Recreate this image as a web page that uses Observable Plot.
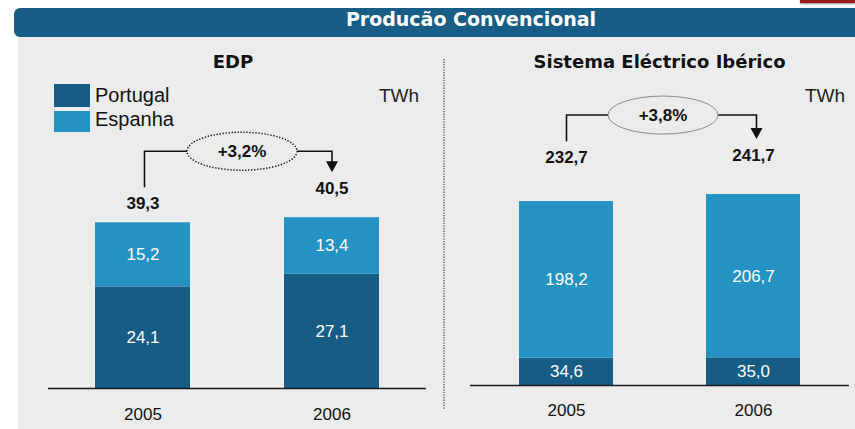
<!DOCTYPE html>
<html><head><meta charset="utf-8">
<script src="https://cdn.jsdelivr.net/npm/d3@7"></script>
<script src="https://cdn.jsdelivr.net/npm/@observablehq/plot@0.6"></script>
<style>
body{margin:0;background:#fff;width:855px;height:429px;overflow:hidden;position:relative;font-family:"Liberation Sans",Arial,sans-serif;}
#panel{position:absolute;left:18px;top:37px;width:837px;height:392px;background:#ececec;}
#header{position:absolute;left:14px;top:8px;width:841px;height:29px;background:#175d85;border-radius:6px 0 0 6px;}
#htitle{position:absolute;left:471px;top:8px;height:29px;line-height:29px;transform:translateX(-50%);color:#fff;font:bold 19px "DejaVu Sans",sans-serif;white-space:nowrap;}
#redtab{position:absolute;left:800px;top:0;width:55px;height:3px;background:#9b1b1b;box-shadow:0 1px 2px rgba(0,0,0,0.45);}
.plotwrap{position:absolute;left:0;top:0;}
</style>
</head><body>
<div id="panel"></div>
<div id="redtab"></div>
<div id="header"></div>
<div id="htitle">Producão Convencional</div>
<div id="left" class="plotwrap"></div>
<div id="right" class="plotwrap"></div>
<script>
// ---- data ----
const years = ["2005", "2006"];
const seriesNames = ["Portugal", "Espanha"];
const edpPortugal = [24.1, 27.1];
const edpEspanha = [15.2, 13.4];
const edpTotals = [39.3, 40.5];
const edpGrowth = "+3,2%";
const ibPortugal = [34.6, 35.0];
const ibEspanha = [198.2, 206.7];
const ibTotals = [232.7, 241.7];
const ibGrowth = "+3,8%";
const panelTitles = ["EDP", "Sistema Eléctrico Ibérico"];
const unitLabel = "TWh";

const colors = ["#175c84", "#2592c4"];
const fmt = v => v.toFixed(1).replace(".", ",");
const FONT = '"Liberation Sans", Arial, sans-serif';

function rowsOf(pt, es) {
  const rows = [];
  years.forEach((y, i) => rows.push({year: y, series: "Portugal", value: pt[i]}));
  years.forEach((y, i) => rows.push({year: y, series: "Espanha", value: es[i]}));
  return rows;
}
function totalsOf(t) { return years.map((y, i) => ({year: y, total: t[i]})); }

function makePanel(cfg) {
  const rows = rowsOf(cfg.pt, cfg.es);
  const tots = totalsOf(cfg.totals);
  const plot = Plot.plot({
    width: 855, height: 429,
    marginLeft: cfg.mL, marginRight: cfg.mR, marginTop: cfg.mT, marginBottom: cfg.mB,
    x: {domain: years, paddingInner: cfg.pi, paddingOuter: cfg.po},
    y: {domain: cfg.yDomain, axis: null},
    color: {domain: seriesNames, range: colors},
    style: {background: "transparent", fontFamily: FONT, overflow: "visible"},
    marks: [
      Plot.barY(rows, {x: "year", y: "value", fill: "series"}),
      Plot.ruleY([0], {stroke: "#1a1a1a", strokeWidth: 1.6}),
      Plot.text(rows, Plot.stackY({x: "year", y: "value", text: d => fmt(d.value), fill: "white", fontSize: 17})),
      Plot.text(tots.slice(0, 1), {x: "year", y: "total", text: d => fmt(d.total), lineAnchor: "bottom", dy: cfg.totDy[0], fontSize: 17, fontWeight: "bold", fill: "#111"}),
      Plot.text(tots.slice(1, 2), {x: "year", y: "total", text: d => fmt(d.total), lineAnchor: "bottom", dy: cfg.totDy[1], fontSize: 17, fontWeight: "bold", fill: "#111"}),
      Plot.axisX({tickSize: 0, tickPadding: cfg.tickPad, fontSize: 17, color: "#111", label: null})
    ]
  });
  // annotation bracket via the plot's own scales
  const sx = plot.scale("x"), sy = plot.scale("y");
  const center = y => sx.apply(y) + sx.bandwidth / 2;
  const x1 = center(years[0]) + cfg.dx1, x2 = center(years[1]) + cfg.dx2;
  const topA = sy.apply(cfg.totals[0]) + cfg.totDy[0] - 21;
  const topB = sy.apply(cfg.totals[1]) + cfg.totDy[1] - 21;
  const yA = sy.apply(Math.max(...cfg.totals)) - cfg.lift;
  const ecx = (center(years[0]) + center(years[1])) / 2 + cfg.ecxOff;
  const rx = 55, ry = 19;
  const svg = d3.select(plot);
  const g = svg.append("g").attr("fill", "none").attr("stroke", "#111").attr("stroke-width", 1.6);
  g.append("path").attr("d", `M${x1},${topA}V${yA}H${ecx - rx}`);
  g.append("path").attr("d", `M${ecx + rx},${yA}H${x2}V${topB - 10}`);
  svg.append("path").attr("d", `M${x2 - 6},${topB - 11}L${x2 + 6},${topB - 11}L${x2},${topB}Z`).attr("fill", "#111");
  svg.append("ellipse").attr("cx", ecx).attr("cy", yA).attr("rx", rx).attr("ry", ry)
    .attr("fill", cfg.ellFill).attr("stroke", cfg.ellStroke).attr("stroke-width", cfg.ellWidth)
    .attr("stroke-dasharray", cfg.ellDash);
  svg.append("text").attr("x", ecx).attr("y", yA + 6).attr("text-anchor", "middle")
    .attr("font-size", 17).attr("font-weight", "bold").attr("fill", "#111").text(cfg.growth);
  // panel title and unit
  const rng = sx.range;
  svg.append("text").attr("x", (rng[0] + rng[1]) / 2 + cfg.titleOff).attr("y", 68).attr("text-anchor", "middle")
    .attr("font-family", '"DejaVu Sans", sans-serif').attr("font-weight", "bold").attr("font-size", 18).attr("fill", "#111")
    .text(cfg.title);
  svg.append("text").attr("x", cfg.unitX).attr("y", 102).attr("text-anchor", "end")
    .attr("font-size", 19).attr("fill", "#222").text(unitLabel);
  return plot;
}

const leftPlot = makePanel({
  pt: edpPortugal, es: edpEspanha, totals: edpTotals, growth: edpGrowth, title: panelTitles[0],
  mL: 48, mR: 429, mT: 135, mB: 41, yDomain: [0, 60], pi: 0.497, po: 0.2485,
  totDy: [-14, -24], tickPad: 19, dx1: 2, dx2: 0.5, lift: 66, ecxOff: 5,
  ellFill: "none", ellStroke: "#111", ellWidth: 1.5, ellDash: "1.3 1.7",
  titleOff: -4, unitX: 419
});
const rightPlot = makePanel({
  pt: ibPortugal, es: ibEspanha, totals: ibTotals, growth: ibGrowth, title: panelTitles[1],
  mL: 470, mR: 6, mT: 148, mB: 44, yDomain: [0, 300], pi: 0.495, po: 0.2555,
  totDy: [-39, -34], tickPad: 18, dx1: 0.5, dx2: 3.5, lift: 79, ecxOff: 3.5,
  ellFill: "#ececec", ellStroke: "#8a8a8a", ellWidth: 1, ellDash: null,
  titleOff: 0, unitX: 845
});

// legend + separator in the left svg
const ls = d3.select(leftPlot);
seriesNames.forEach((s, i) => {
  ls.append("rect").attr("x", 54).attr("y", i === 0 ? 84 : 111).attr("width", 36).attr("height", i === 0 ? 23 : 21).attr("fill", colors[i]);
  ls.append("text").attr("x", 95).attr("y", i === 0 ? 102 : 126).attr("text-anchor", "start")
    .attr("font-size", 20).attr("fill", "#111").text(s);
});
ls.append("line").attr("x1", 444).attr("x2", 444).attr("y1", 59).attr("y2", 410)
  .attr("stroke", "#666").attr("stroke-width", 1.5).attr("stroke-dasharray", "1.3 1.3");

document.getElementById("left").append(leftPlot);
document.getElementById("right").append(rightPlot);
</script>
</body></html>
